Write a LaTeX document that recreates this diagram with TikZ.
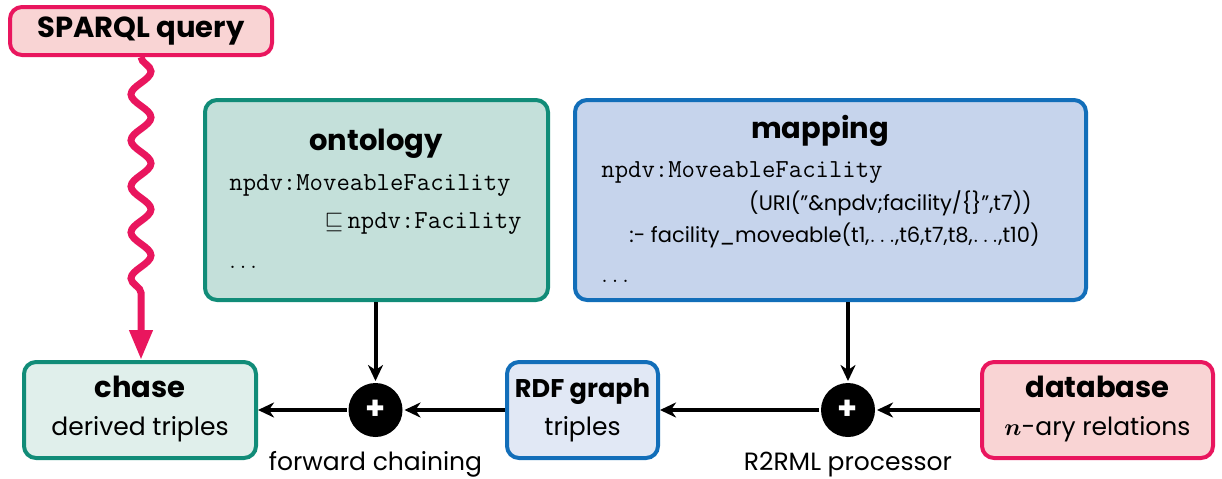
\documentclass[tikz,border=0pt]{standalone}
\usepackage{amsmath}
\usepackage{bm}
\usepackage{fontspec}
\setmainfont{Poppins}
\usetikzlibrary{arrows.meta,decorations.pathmorphing}
\definecolor{crim}{RGB}{233,22,94}
\definecolor{pinkfill}{RGB}{249,212,212}
\definecolor{tealb}{RGB}{17,140,120}
\definecolor{tealfill}{RGB}{196,224,218}
\definecolor{teallight}{RGB}{224,239,235}
\definecolor{blueb}{RGB}{18,110,185}
\definecolor{bluefill}{RGB}{198,212,236}
\definecolor{bluelight}{RGB}{225,232,245}
\begin{document}
\begin{tikzpicture}[x=0.5pt,y=-0.5pt,
  box/.style={draw, line width=2pt, rounded corners=6pt, inner sep=0pt, outer sep=1pt},
  pinkbox/.style={box, draw=crim, fill=pinkfill},
  tealbox/.style={box, draw=tealb, fill=tealfill},
  teallbox/.style={box, draw=tealb, fill=teallight},
  bluebox/.style={box, draw=blueb, fill=bluefill},
  bluelbox/.style={box, draw=blueb, fill=bluelight},
  ttl/.style={inner sep=0pt, anchor=base, font=\fontsize{14.5}{17}\selectfont\bfseries},
  sub/.style={inner sep=0pt, anchor=base, font=\fontsize{12.5}{15}\selectfont},
  small/.style={inner sep=0pt, font=\fontsize{10.5}{13}\selectfont},
  mono/.style={inner sep=0pt, font=\fontsize{13}{15}\selectfont\ttfamily},
  plus/.style={circle, fill=black, minimum size=27pt, inner sep=0pt, outer sep=1pt,
    text=white, font=\fontsize{16}{18}\selectfont\bfseries},
  conn/.style={line width=2pt, -{Stealth[length=8pt,width=7.5pt,inset=2.5pt]}}
]
\useasboundingbox (0,0) rectangle (1222,478);

% boxes
\node[pinkbox, minimum width=131pt, minimum height=24pt] (sparql) at (141,31) {};
\node[ttl, anchor=center] (sparqlT) at (141,31) {SPARQL query};

\node[tealbox, minimum width=171.5pt, minimum height=100pt] (onto) at (376.5,200) {};
\node[ttl] (ontoT) at (376,150) {ontology};
\node[mono, anchor=base west] (onto1) at (229,190) {npdv:MoveableFacility};
\node[mono, anchor=base east] (onto2) at (522,228) {$\sqsubseteq$\,npdv:Facility};
\node[mono, anchor=base west] (onto3) at (229,268) {$\ldots$};

\node[bluebox, minimum width=255.5pt, minimum height=100pt] (map) at (830.5,200) {};
\node[ttl] (mapT) at (820,138) {mapping};
\node[mono, anchor=base west] (map1) at (601,177) {npdv:MoveableFacility};
\node[small, anchor=base east] (map2) at (1032,210) {(URI(”\&npdv;facility/\{\}”,t7))};
\node[small, anchor=base east] (map3) at (1040,242) {:- facility\textunderscore moveable(t1,$\ldots$,t6,t7,t8,$\ldots$,t10)};
\node[mono, anchor=base west] (map4) at (601,282) {$\ldots$};

\node[teallbox, minimum width=116pt, minimum height=48pt] (chase) at (140,410) {};
\node[ttl] (chaseT) at (140,397) {chase};
\node[sub] (chaseS) at (140,435) {derived triples};

\node[bluelbox, minimum width=75.5pt, minimum height=48pt] (rdf) at (582.5,410) {};
\node[ttl, font=\fontsize{12.8}{15}\selectfont\bfseries] (rdfT) at (582.5,397) {RDF graph};
\node[sub] (rdfS) at (582.5,435) {triples};

\node[pinkbox, minimum width=115.5pt, minimum height=48pt] (db) at (1097.5,410) {};
\node[ttl] (dbT) at (1097.5,397) {database};
\node[sub] (dbS) at (1097.5,435) {$\bm{n}$-ary relations};

% operators
\node[plus] (c1) at (375.5,410) {+};
\node[plus] (c2) at (848,410) {+};
\node[sub] (fc) at (375.5,470) {forward chaining};
\node[sub] (r2) at (848,470) {R2RML processor};

% connectors
\draw[conn] (onto.south -| c1) -- (c1);
\draw[conn] (map.south -| c2) -- (c2);
\draw[conn] (db) -- (c2);
\draw[conn] (c2) -- (rdf);
\draw[conn] (rdf) -- (c1);
\draw[conn] (c1) -- (chase);

\draw[crim, line width=3.5pt, -{Triangle[length=15pt,width=11pt]},
  decorate, decoration={snake, amplitude=5pt, segment length=23pt, post length=25pt}]
  (sparql.south) -- (chase.north -| sparql.south);
\end{tikzpicture}
\end{document}
